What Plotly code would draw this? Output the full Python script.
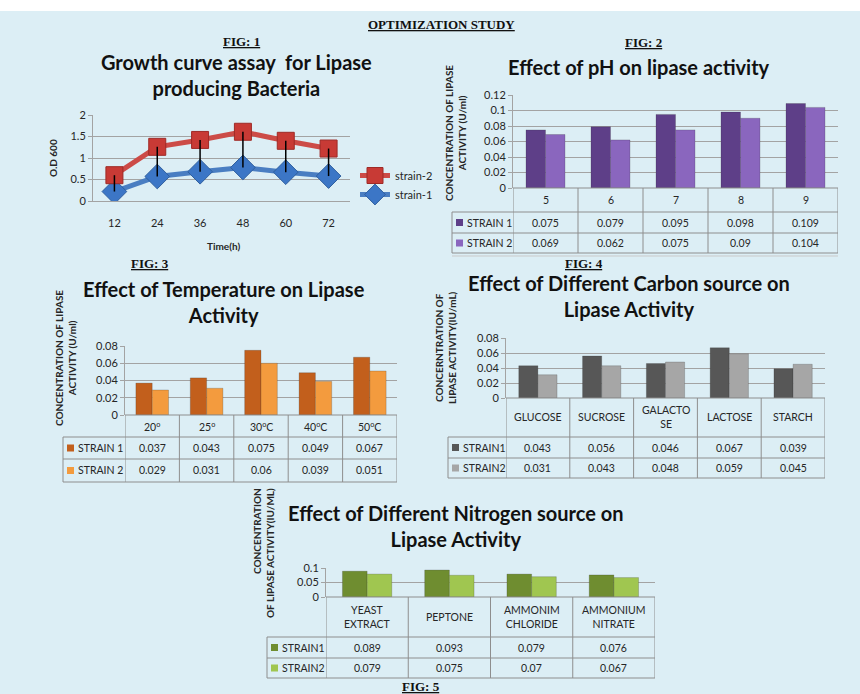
import plotly.graph_objects as go

W, H = 860, 694

# ---------------- data ----------------
time_h = ["12", "24", "36", "48", "60", "72"]
strain1_od = [0.22, 0.57, 0.68, 0.78, 0.67, 0.58]
strain2_od = [0.60, 1.26, 1.42, 1.61, 1.40, 1.22]

ph_cats = ["5", "6", "7", "8", "9"]
ph_s1 = [0.075, 0.079, 0.095, 0.098, 0.109]
ph_s2 = [0.069, 0.062, 0.075, 0.09, 0.104]

temp_cats = ["20<sup>o</sup>", "25<sup>o</sup>", "30<sup>o</sup>C", "40<sup>o</sup>C", "50<sup>o</sup>C"]
temp_s1 = [0.037, 0.043, 0.075, 0.049, 0.067]
temp_s2 = [0.029, 0.031, 0.06, 0.039, 0.051]

carbon_cats = ["GLUCOSE", "SUCROSE", "GALACTO<br>SE", "LACTOSE", "STARCH"]
carbon_s1 = [0.043, 0.056, 0.046, 0.067, 0.039]
carbon_s2 = [0.031, 0.043, 0.048, 0.059, 0.045]

nitrogen_cats = ["YEAST<br>EXTRACT", "PEPTONE", "AMMONIM<br>CHLORIDE", "AMMONIUM<br>NITRATE"]
nitrogen_s1 = [0.089, 0.093, 0.079, 0.076]
nitrogen_s2 = [0.079, 0.075, 0.07, 0.067]

# ---------------- helpers ----------------
def fx(p):
    return p / W

def fy(p):
    return 1 - p / H

FONT = "Lato, 'Open Sans', sans-serif"
SERIF = "'Liberation Serif', 'DejaVu Serif', serif"
GRID = "#A3A3A3"
TXT = "#262626"
TABLE = "#8E8E8E"
BG = "#DCEEF5"
TSIZE = 20

fig = go.Figure()
shapes = []
ann = []

def text(x, y, t, size=10.5, bold=False, xref="paper", yref="paper", angle=0,
         xanchor="center", yanchor="middle", family=FONT, align="center", color=TXT):
    ann.append(dict(x=x, y=y, xref=xref, yref=yref, text=("<b>%s</b>" % t) if bold else t,
                    showarrow=False, textangle=angle, xanchor=xanchor, yanchor=yanchor,
                    align=align, font=dict(family=family, size=size, color=color)))

def line(x0, y0, x1, y1, xref="paper", yref="paper", color=TABLE, width=1):
    shapes.append(dict(type="line", x0=x0, y0=y0, x1=x1, y1=y1, xref=xref, yref=yref,
                       line=dict(color=color, width=width)))

# background pieces
shapes.append(dict(type="rect", xref="paper", yref="paper", x0=0, x1=1, y0=fy(11), y1=1,
                   fillcolor="white", line=dict(width=0), layer="below"))
line(fx(452), fy(256), fx(838), fy(256), color="#C9C9C9")

# title
text(fx(442), fy(25), "<b><u>OPTIMIZATION STUDY</u></b>", size=13, family=SERIF, color="#111")

# ---------------- FIG 1 : growth curve ----------------
fig.add_trace(go.Scatter(
    x=time_h, y=strain1_od, name="strain-1", mode="lines+markers",
    line=dict(color="#4A7EC2", width=5),
    marker=dict(symbol="diamond", size=19, color="#3C76C6", line=dict(color="#2F5F9E", width=1)),
    xaxis="x", yaxis="y"))
fig.add_trace(go.Scatter(
    x=time_h, y=strain2_od, name="strain-2", mode="lines+markers",
    line=dict(color="#CC4B47", width=5),
    marker=dict(symbol="square", size=17, color="#C83A35", line=dict(color="#9E2A26", width=1)),
    xaxis="x", yaxis="y"))
hx, hy = [], []
for t, a, b in zip(time_h, strain1_od, strain2_od):
    hx += [t, t, None]
    hy += [a, b, None]
fig.add_trace(go.Scatter(x=hx, y=hy, mode="lines", line=dict(color="black", width=1.5),
                         showlegend=False, hoverinfo="skip", xaxis="x", yaxis="y"))

layout_axes = {}
layout_axes["xaxis"] = dict(domain=[fx(93), fx(350)], anchor="y", type="category",
                            range=[-0.5, len(time_h) - 0.5], showgrid=False, showline=True,
                            linecolor=GRID, ticks="", ticklabelstandoff=12,
                            tickfont=dict(family=FONT, size=11, color=TXT))
layout_axes["yaxis"] = dict(domain=[fy(201), fy(115)], anchor="x", range=[0, 2], dtick=0.5,
                            showgrid=True, gridcolor=GRID, showline=True, linecolor=GRID,
                            ticks="outside", ticklen=4, tickcolor=GRID, zeroline=False,
                            tickfont=dict(family=FONT, size=11, color=TXT))
text(fx(237), fy(75), "Growth curve assay\u00a0 for Lipase<br>producing Bacteria", size=TSIZE, bold=True, color="#111")
text(fx(241), fy(42), "<b><u>FIG: 1</u></b>", size=13, family=SERIF, color="#111")
text(fx(53), fy(158), "O.D 600", size=10, bold=True, angle=-90)
text(fx(223), fy(246), "Time(h)", size=10, bold=True)

# ---------------- bar panels with data tables ----------------
panels = [
    dict(n="2", cats=ph_cats, s1=ph_s1, s2=ph_s2, names=("STRAIN 1", "STRAIN 2"),
         colors=("#5E3F88", "#8A66BE"), x0=513, x1=838, yt=95, yb=188, leg=452,
         r1=212, r2=233, r3=253, yr=[0, 0.12], dt=0.02,
         title="Effect of pH on lipase activity", tx=639, ty=67,
         fig="FIG: 2", fgx=643, fgy=43,
         ytitle="CONCENTRATION OF LIPASE<br>ACTIVITY (U/ml)", ytx=455, yty=133, yal="center"),
    dict(n="3", cats=temp_cats, s1=temp_s1, s2=temp_s2, names=("STRAIN 1", "STRAIN 2"),
         colors=("#C25F1C", "#F39B3E"), x0=125, x1=397, yt=346, yb=415, leg=63,
         r1=437, r2=459, r3=482, yr=[0, 0.08], dt=0.02,
         title="Effect of Temperature on Lipase<br>Activity", tx=224, ty=302,
         fig="FIG: 3", fgx=150, fgy=263,
         ytitle="CONCENTRATION OF LIPASE<br>ACTIVITY (U/ml)", ytx=66, yty=358, yal="center"),
    dict(n="4", cats=carbon_cats, s1=carbon_s1, s2=carbon_s2, names=("STRAIN1", "STRAIN2"),
         colors=("#575757", "#A6A6A6"), x0=506, x1=825, yt=338, yb=398, leg=448,
         r1=437, r2=458, r3=478, yr=[0, 0.08], dt=0.02,
         title="Effect of Different Carbon source on<br>Lipase Activity", tx=629, ty=296,
         fig="FIG: 4", fgx=584, fgy=263,
         ytitle="CONCERNTRATION OF<br>LIPASE ACTIVITY(IU/mL)", ytx=445, yty=348, yal="center"),
    dict(n="5", cats=nitrogen_cats, s1=nitrogen_s1, s2=nitrogen_s2, names=("STRAIN1", "STRAIN2"),
         colors=("#6F8D30", "#A0C650"), x0=326, x1=655, yt=568, yb=597, leg=267,
         r1=637, r2=658, r3=678, yr=[0, 0.1], dt=0.05,
         title="Effect of Different Nitrogen source on<br>Lipase Activity", tx=456, ty=526,
         fig="FIG: 5", fgx=421, fgy=686,
         ytitle="CONCENTRATION<br>OF LIPASE ACTIVITY(IU/ML)", ytx=263, yty=553, yal="right"),
]

for p in panels:
    n = p["n"]
    xa, ya = "x" + n, "y" + n
    idx = list(range(len(p["cats"])))
    for vals, nm, col in zip((p["s1"], p["s2"]), p["names"], p["colors"]):
        fig.add_trace(go.Bar(x=idx, y=vals, name=nm, showlegend=False,
                             marker=dict(color=col, line=dict(color="rgba(40,40,40,0.35)", width=0.6)),
                             xaxis=xa, yaxis=ya))
    layout_axes["xaxis" + n] = dict(domain=[fx(p["x0"]), fx(p["x1"])], anchor=ya, type="linear",
                                    range=[-0.5, len(idx) - 0.5], showgrid=False, zeroline=False,
                                    showticklabels=False, showline=False, ticks="")
    layout_axes["yaxis" + n] = dict(domain=[fy(p["yb"]), fy(p["yt"])], anchor=xa, range=p["yr"],
                                    dtick=p["dt"], showgrid=True, gridcolor=GRID, showline=True,
                                    linecolor=GRID, ticks="outside", ticklen=4, tickcolor=GRID,
                                    zeroline=False, tickfont=dict(family=FONT, size=11, color=TXT))
    # table grid
    xl, xr = fx(p["x0"]), fx(p["x1"])
    line(xl, fy(p["yb"]), xr, fy(p["yb"]))
    for r in (p["r1"], p["r2"], p["r3"]):
        line(fx(p["leg"]), fy(r), xr, fy(r))
    line(fx(p["leg"]), fy(p["r1"]), fx(p["leg"]), fy(p["r3"]))
    for k in range(len(idx) + 1):
        line(k - 0.5, fy(p["yb"]), k - 0.5, fy(p["r3"]), xref=xa)
    # table text
    hm = (p["yb"] + p["r1"]) / 2
    m1 = (p["r1"] + p["r2"]) / 2
    m2 = (p["r2"] + p["r3"]) / 2
    for k, c in enumerate(p["cats"]):
        text(k, fy(hm), c, xref=xa)
        text(k, fy(m1), str(p["s1"][k]), xref=xa)
        text(k, fy(m2), str(p["s2"][k]), xref=xa)
    for mid, nm, col in ((m1, p["names"][0], p["colors"][0]), (m2, p["names"][1], p["colors"][1])):
        shapes.append(dict(type="rect", xref="paper", yref="paper",
                           x0=fx(p["leg"] + 4), x1=fx(p["leg"] + 11),
                           y0=fy(mid + 3.5), y1=fy(mid - 3.5), fillcolor=col,
                           line=dict(width=0)))
        text(fx(p["leg"] + 13), fy(mid), nm, xanchor="left")
    # titles
    text(fx(p["tx"]), fy(p["ty"]), p["title"], size=TSIZE, bold=True, color="#111")
    text(fx(p["fgx"]), fy(p["fgy"]), "<b><u>%s</u></b>" % p["fig"], size=13, family=SERIF, color="#111")
    text(fx(p["ytx"]), fy(p["yty"]), p["ytitle"], size=10, bold=True, angle=-90, align=p["yal"])

fig.update_layout(
    width=W, height=H, margin=dict(l=0, r=0, t=0, b=0, autoexpand=False),
    paper_bgcolor=BG, plot_bgcolor="rgba(0,0,0,0)",
    barmode="group", bargap=0.4, bargroupgap=0,
    showlegend=True,
    legend=dict(x=fx(355), y=fy(161), xanchor="left", yanchor="top", traceorder="reversed",
                bgcolor="rgba(0,0,0,0)", font=dict(family=FONT, size=11, color=TXT),
                tracegroupgap=2),
    shapes=shapes, annotations=ann,
    **layout_axes
)

fig.write_html("out.html", config={"displayModeBar": False},
               post_script="document.body.style.margin='0';document.body.style.overflow='hidden';")
